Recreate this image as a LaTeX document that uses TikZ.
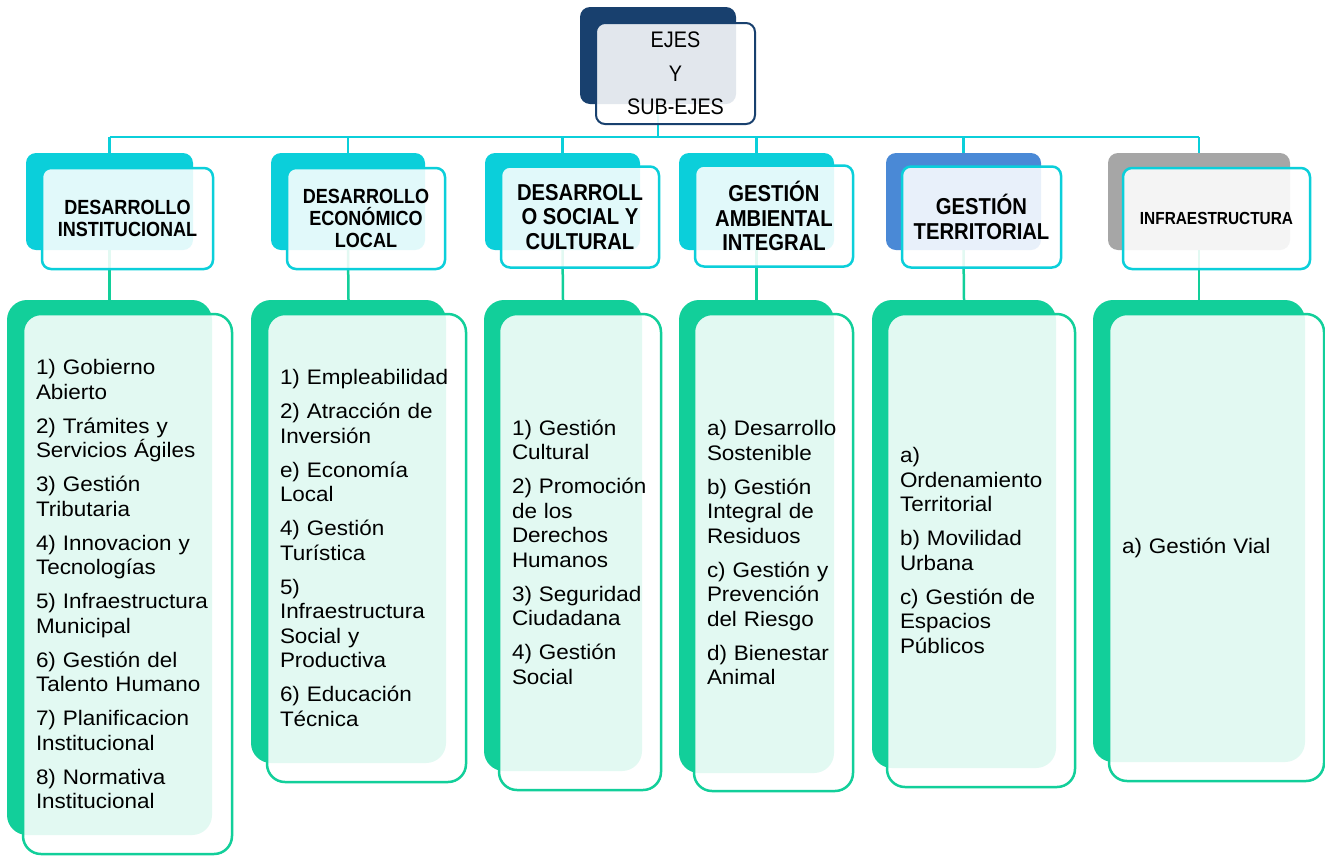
\documentclass[tikz,border=0pt]{standalone}
\usepackage{fontspec}
\setmainfont{Liberation Sans}
\newfontfamily\bodyfont[FakeStretch=1.07]{Liberation Sans}
\newfontfamily\headfont[FakeStretch=0.88]{Liberation Sans}
\definecolor{ejenavy}{RGB}{24,64,110}
\definecolor{ejeteal}{RGB}{11,207,218}
\definecolor{ejegreen}{RGB}{18,207,154}
\definecolor{ejeblue}{RGB}{74,137,214}
\definecolor{ejegray}{RGB}{166,166,166}
\newcommand{\itemgap}{\\[9.5pt]}
\tikzset{
	backbox/.style={rectangle,rounded corners=10pt,inner sep=0pt},
	frontbox/.style={rectangle,rounded corners=9pt,draw,line width=2.5pt,fill=white,fill opacity=0.88,text opacity=1,inner sep=0pt,align=center},
	headfront/.style={frontbox,draw=ejeteal,minimum height=101pt,font=\headfont\bfseries\fontsize{23}{24.5}\selectfont},
	bodyback/.style={backbox,fill=ejegreen,rounded corners=20pt},
	bodyfront/.style={frontbox,draw=ejegreen,rounded corners=18pt,inner xsep=13pt,align=left,font=\bodyfont\fontsize{21}{24.5}\selectfont}
}

\begin{document}
\begin{tikzpicture}[x=1pt,y=-1pt]
	\useasboundingbox[fill=white] (0,0) rectangle (1325,855);
	
	\node[backbox,fill=ejenavy,minimum width=156pt,minimum height=97pt] (topb) at (658,55.5) {};
	
	\node[backbox,fill=ejeteal,minimum width=167pt,minimum height=97pt] (hb1) at (109.5,201.5) {};
	\node[backbox,fill=ejeteal,minimum width=154pt,minimum height=97pt] (hb2) at (348,201.5) {};
	\node[backbox,fill=ejeteal,minimum width=155pt,minimum height=97pt] (hb3) at (562.5,201.5) {};
	\node[backbox,fill=ejeteal,minimum width=155pt,minimum height=97pt] (hb4) at (756.5,201.5) {};
	\node[backbox,fill=ejeblue,minimum width=155pt,minimum height=97pt] (hb5) at (963.5,201.5) {};
	\node[backbox,fill=ejegray,minimum width=182pt,minimum height=97pt] (hb6) at (1199,201.5) {};
	
	\node[bodyback,minimum width=205pt,minimum height=535pt] (bb1) at (109.5,567.5) {};
	\node[bodyback,minimum width=195pt,minimum height=463pt] (bb2) at (348.5,531.5) {};
	\node[bodyback,minimum width=158pt,minimum height=471pt] (bb3) at (563,535.5) {};
	\node[bodyback,minimum width=155pt,minimum height=473pt] (bb4) at (756.5,536.5) {};
	\node[bodyback,minimum width=184pt,minimum height=468pt] (bb5) at (964,534) {};
	\node[bodyback,minimum width=212pt,minimum height=462pt] (bb6) at (1199,531) {};
	
	\coordinate (bar) at (658,137);
	\draw[ejeteal,line width=2.5pt] (topb.south) -- (bar);
	\draw[ejeteal,line width=2.5pt] (hb1.north |- bar) -- (hb6.north |- bar);
	\foreach \i in {1,...,6}
	{
		\draw[ejeteal,line width=2.5pt] (hb\i.north |- bar) -- (hb\i.north);
		\draw[ejegreen,line width=2.5pt] (hb\i.south) -- (bb\i.north);
	}
	
	\node[frontbox,draw=ejenavy,line width=2pt,minimum width=159pt,minimum height=101pt,font=\headfont\fontsize{22.5}{33.5}\selectfont] (topf) at (675.5,73.5) {EJES\\Y\\SUB-EJES};
	
	\node[headfront,minimum width=171pt,font=\headfont\bfseries\fontsize{20.5}{22}\selectfont] (hf1) at (127.5,218.5) {DESARROLLO\\INSTITUCIONAL};
	\node[headfront,minimum width=158pt,font=\headfont\bfseries\fontsize{20.5}{22}\selectfont] (hf2) at (366,218.5) {DESARROLLO\\ECONÓMICO\\LOCAL};
	\node[headfront,minimum width=158pt] (hf3) at (580,217) {DESARROLL\\O SOCIAL Y\\CULTURAL};
	\node[headfront,minimum width=158pt] (hf4) at (774,216) {GESTIÓN\\AMBIENTAL\\INTEGRAL};
	\node[headfront,minimum width=159pt] (hf5) at (981.5,217) {GESTIÓN\\TERRITORIAL};
	\node[headfront,minimum width=187pt,font=\headfont\bfseries\fontsize{17.5}{20}\selectfont] (hf6) at (1216.5,218.5) {INFRAESTRUCTURA};
	
	\node[bodyfront,text width=183pt,minimum height=540pt] (bf1) at (127.5,584) {1) Gobierno\\Abierto\itemgap 2) Trámites y\\Servicios Ágiles\itemgap 3) Gestión\\Tributaria\itemgap 4) Innovacion y\\Tecnologías\itemgap 5) Infraestructura\\Municipal\itemgap 6) Gestión del\\Talento Humano\itemgap 7) Planificacion\\Institucional\itemgap 8) Normativa\\Institucional};
	\node[bodyfront,text width=173pt,minimum height=468pt] (bf2) at (366.5,548) {1) Empleabilidad\itemgap 2) Atracción de\\Inversión\itemgap e) Economía\\Local\itemgap 4) Gestión\\Turística\itemgap 5)\\Infraestructura\\Social y\\Productiva\itemgap 6) Educación\\Técnica};
	\node[bodyfront,text width=136pt,minimum height=476pt] (bf3) at (580,552) {1) Gestión\\Cultural\itemgap 2) Promoción\\de los\\Derechos\\Humanos\itemgap 3) Seguridad\\Ciudadana\itemgap 4) Gestión\\Social};
	\node[bodyfront,text width=133pt,minimum height=477pt] (bf4) at (773.5,552.5) {a) Desarrollo\\Sostenible\itemgap b) Gestión\\Integral de\\Residuos\itemgap c) Gestión y\\Prevención\\del Riesgo\itemgap d) Bienestar\\Animal};
	\node[bodyfront,text width=162pt,minimum height=473pt] (bf5) at (981,550.5) {a)\\Ordenamiento\\Territorial\itemgap b) Movilidad\\Urbana\itemgap c) Gestión de\\Espacios\\Públicos};
	\node[bodyfront,text width=189pt,minimum height=467pt] (bf6) at (1216.5,547.5) {a) Gestión Vial};
\end{tikzpicture}
\end{document}
